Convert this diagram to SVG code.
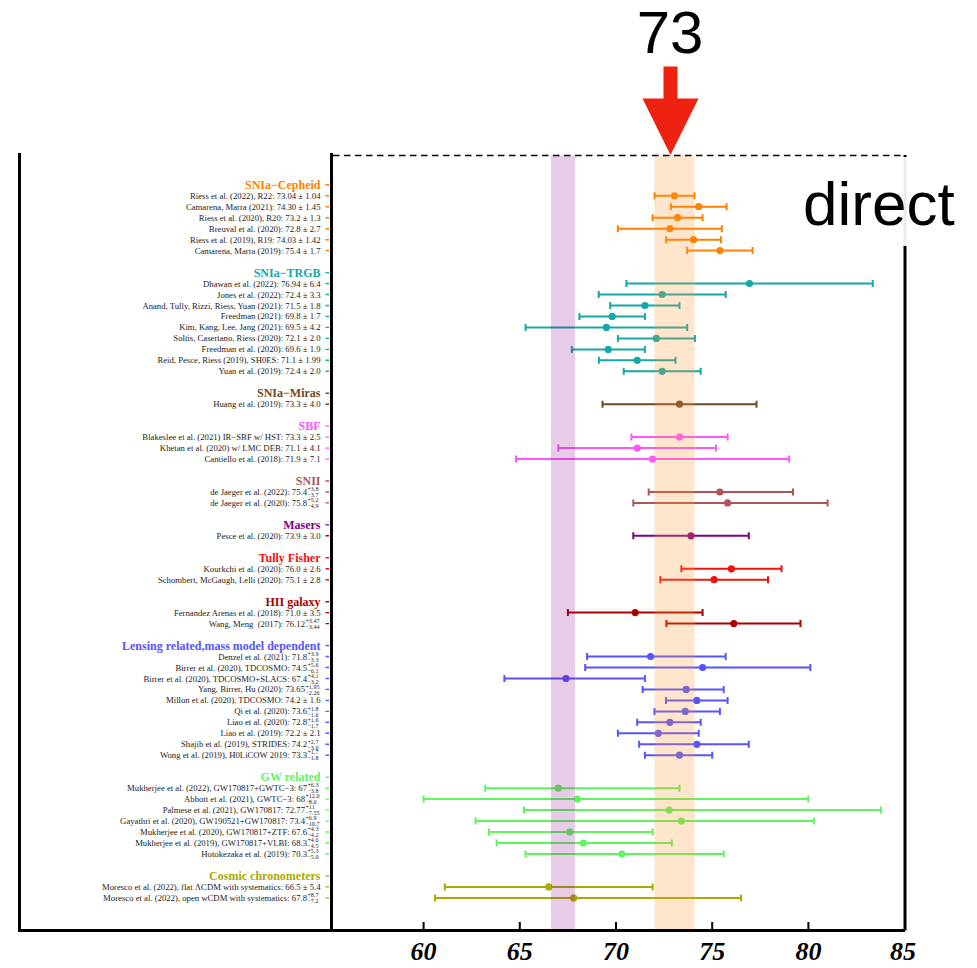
<svg xmlns="http://www.w3.org/2000/svg" width="977" height="968" viewBox="0 0 977 968">
<style>
.lbl{font-family:"Liberation Serif",serif;font-size:8.7px;fill:#222;text-anchor:end}
.ss{font-family:"Liberation Serif",serif;font-size:6.1px;fill:#222}
.hdr{font-family:"Liberation Serif",serif;font-size:12px;font-weight:bold;text-anchor:end;fill:currentColor}
.bar{stroke:currentColor;stroke-width:2;fill:none}
.tk{stroke:currentColor;stroke-width:1.4;fill:none}
.pt{fill:currentColor}
.frame{stroke:#000;stroke-width:3;fill:none}
.axl{font-family:"Liberation Serif",serif;font-size:26px;font-weight:bold;font-style:italic;text-anchor:middle;fill:#000}
</style>
<rect width="977" height="968" fill="#fff"/>

<g id="frame">
<path class="frame" d="M19.5,153 V930.5 H905 M331.5,153 V930.5 M905,155 V930.5"/>
<path stroke="#000" stroke-width="2" d="M423.6,929 v-7 M519.8,929 v-7 M616,929 v-7 M712.2,929 v-7 M808.4,929 v-7"/>
<text class="axl" x="423.6" y="960">60</text>
<text class="axl" x="519.8" y="960">65</text>
<text class="axl" x="616" y="960">70</text>
<text class="axl" x="712.2" y="960">75</text>
<text class="axl" x="808.4" y="960">80</text>
<text class="axl" x="903" y="960">85</text>
</g>

<g id="cepheid" style="color:#FF8000">
<text class="hdr" x="320.5" y="188.8">SNIa−Cepheid</text>
<text class="lbl" x="320.5" y="198.8">Riess et al. (2022), R22: 73.04 ± 1.04</text>
<text class="lbl" x="320.5" y="209.7">Camarena, Marra (2021): 74.30 ± 1.45</text>
<text class="lbl" x="320.5" y="220.7">Riess et al. (2020), R20: 73.2 ± 1.3</text>
<text class="lbl" x="320.5" y="231.7">Breuval et al. (2020): 72.8 ± 2.7</text>
<text class="lbl" x="320.5" y="242.7">Riess et al. (2019), R19: 74.03 ± 1.42</text>
<text class="lbl" x="320.5" y="253.6">Camarena, Marra (2019): 75.4 ± 1.7</text>
<path class="tk" d="M325.5,184.8h3.5M325.5,195.8h3.5M325.5,206.7h3.5M325.5,217.7h3.5M325.5,228.7h3.5M325.5,239.7h3.5M325.5,250.6h3.5"/>
<path class="bar" d="M654.5,195.8H694.5M654.5,192.3v7M694.5,192.3v7 M670.8,206.7H726.6M670.8,203.2v7M726.6,203.2v7 M652.6,217.7H702.6M652.6,214.2v7M702.6,214.2v7 M617.9,228.7H721.8M617.9,225.2v7M721.8,225.2v7 M666.2,239.7H720.9M666.2,236.2v7M720.9,236.2v7 M687.2,250.6H752.6M687.2,247.1v7M752.6,247.1v7"/>
<circle class="pt" cx="674.5" cy="195.8" r="3.6"/><circle class="pt" cx="698.7" cy="206.7" r="3.6"/><circle class="pt" cx="677.6" cy="217.7" r="3.6"/><circle class="pt" cx="669.9" cy="228.7" r="3.6"/><circle class="pt" cx="693.5" cy="239.7" r="3.6"/><circle class="pt" cx="719.9" cy="250.6" r="3.6"/>
</g>

<g id="trgb" style="color:#14A8A8">
<text class="hdr" x="320.5" y="276.6">SNIa−TRGB</text>
<text class="lbl" x="320.5" y="286.5">Dhawan et al. (2022): 76.94 ± 6.4</text>
<text class="lbl" x="320.5" y="297.5">Jones et al. (2022): 72.4 ± 3.3</text>
<text class="lbl" x="320.5" y="308.5">Anand, Tully, Rizzi, Riess, Yuan (2021): 71.5 ± 1.8</text>
<text class="lbl" x="320.5" y="319.4">Freedman (2021): 69.8 ± 1.7</text>
<text class="lbl" x="320.5" y="330.4">Kim, Kang, Lee, Jang (2021): 69.5 ± 4.2</text>
<text class="lbl" x="320.5" y="341.4">Soltis, Casertano, Riess (2020): 72.1 ± 2.0</text>
<text class="lbl" x="320.5" y="352.4">Freedman et al. (2020): 69.6 ± 1.9</text>
<text class="lbl" x="320.5" y="363.3">Reid, Pesce, Riess (2019), SH0ES: 71.1 ± 1.99</text>
<text class="lbl" x="320.5" y="374.3">Yuan et al. (2019): 72.4 ± 2.0</text>
<path class="tk" d="M325.5,272.6h3.5M325.5,283.5h3.5M325.5,294.5h3.5M325.5,305.5h3.5M325.5,316.4h3.5M325.5,327.4h3.5M325.5,338.4h3.5M325.5,349.4h3.5M325.5,360.3h3.5M325.5,371.3h3.5"/>
<path class="bar" d="M626.4,283.5H872.7M626.4,280v7M872.7,280v7 M598.7,294.5H725.7M598.7,291v7M725.7,291v7 M610.2,305.5H679.5M610.2,302v7M679.5,302v7 M579.4,316.4H644.9M579.4,312.9v7M644.9,312.9v7 M525.6,327.4H687.2M525.6,323.9v7M687.2,323.9v7 M617.9,338.4H694.9M617.9,334.9v7M694.9,334.9v7 M571.8,349.4H644.9M571.8,345.9v7M644.9,345.9v7 M598.9,360.3H675.5M598.9,356.8v7M675.5,356.8v7 M623.7,371.3H700.7M623.7,367.8v7M700.7,367.8v7"/>
<circle class="pt" cx="749.5" cy="283.5" r="3.6"/><circle class="pt" cx="662.2" cy="294.5" r="3.6"/><circle class="pt" cx="644.9" cy="305.5" r="3.6"/><circle class="pt" cx="612.2" cy="316.4" r="3.6"/><circle class="pt" cx="606.4" cy="327.4" r="3.6"/><circle class="pt" cx="656.4" cy="338.4" r="3.6"/><circle class="pt" cx="608.3" cy="349.4" r="3.6"/><circle class="pt" cx="637.2" cy="360.3" r="3.6"/><circle class="pt" cx="662.2" cy="371.3" r="3.6"/>
</g>

<g id="miras" style="color:#6B4A26">
<text class="hdr" x="320.5" y="397.2">SNIa−Miras</text>
<text class="lbl" x="320.5" y="407.2">Huang et al. (2019): 73.3 ± 4.0</text>
<path class="tk" d="M325.5,393.2h3.5M325.5,404.2h3.5"/>
<path class="bar" d="M602.5,404.2H756.5M602.5,400.7v7M756.5,400.7v7"/>
<circle class="pt" cx="679.5" cy="404.2" r="3.6"/>
</g>

<g id="sbf" style="color:#FF55FF">
<text class="hdr" x="320.5" y="430.1">SBF</text>
<text class="lbl" x="320.5" y="440.1">Blakeslee et al. (2021) IR−SBF w/ HST: 73.3 ± 2.5</text>
<text class="lbl" x="320.5" y="451.1">Khetan et al. (2020) w/ LMC DEB: 71.1 ± 4.1</text>
<text class="lbl" x="320.5" y="462.1">Cantiello et al. (2018): 71.9 ± 7.1</text>
<path class="tk" d="M325.5,426.1h3.5M325.5,437.1h3.5M325.5,448.1h3.5M325.5,459.1h3.5"/>
<path class="bar" d="M631.4,437.1H727.6M631.4,433.6v7M727.6,433.6v7 M558.3,448.1H716.1M558.3,444.6v7M716.1,444.6v7 M516,459.1H789.2M516,455.6v7M789.2,455.6v7"/>
<circle class="pt" cx="679.5" cy="437.1" r="3.6"/><circle class="pt" cx="637.2" cy="448.1" r="3.6"/><circle class="pt" cx="652.6" cy="459.1" r="3.6"/>
</g>

<g id="snii" style="color:#B05555">
<text class="hdr" x="320.5" y="485">SNII</text>
<text class="lbl" x="307" y="495">de Jaeger et al. (2022): 75.4</text>
<text class="ss" x="307.4" y="491.2">+3.8<tspan x="307.4" y="497.2">−3.7</tspan></text>
<text class="lbl" x="307" y="505.9">de Jaeger et al. (2020): 75.8</text>
<text class="ss" x="307.4" y="502.1">+5.2<tspan x="307.4" y="508.1">−4.9</tspan></text>
<path class="tk" d="M325.5,481h3.5M325.5,492h3.5M325.5,502.9h3.5"/>
<path class="bar" d="M648.7,492H793M648.7,488.5v7M793,488.5v7 M633.3,502.9H827.6M633.3,499.4v7M827.6,499.4v7"/>
<circle class="pt" cx="719.9" cy="492" r="3.6"/><circle class="pt" cx="727.6" cy="502.9" r="3.6"/>
</g>

<g id="masers" style="color:#800080">
<text class="hdr" x="320.5" y="528.9">Masers</text>
<text class="lbl" x="320.5" y="538.8">Pesce et al. (2020): 73.9 ± 3.0</text>
<path class="tk" d="M325.5,524.9h3.5M325.5,535.8h3.5"/>
<path class="bar" d="M633.3,535.8H748.8M633.3,532.3v7M748.8,532.3v7"/>
<circle class="pt" cx="691" cy="535.8" r="3.6"/>
</g>

<g id="tully" style="color:#F41010">
<text class="hdr" x="320.5" y="561.8">Tully Fisher</text>
<text class="lbl" x="320.5" y="571.8">Kourkchi et al. (2020): 76.0 ± 2.6</text>
<text class="lbl" x="320.5" y="582.7">Schombert, McGaugh, Lelli (2020): 75.1 ± 2.8</text>
<path class="tk" d="M325.5,557.8h3.5M325.5,568.8h3.5M325.5,579.7h3.5"/>
<path class="bar" d="M681.4,568.8H781.5M681.4,565.3v7M781.5,565.3v7 M660.3,579.7H768M660.3,576.2v7M768,576.2v7"/>
<circle class="pt" cx="731.4" cy="568.8" r="3.6"/><circle class="pt" cx="714.1" cy="579.7" r="3.6"/>
</g>

<g id="hii" style="color:#AA0000">
<text class="hdr" x="320.5" y="605.7">HII galaxy</text>
<text class="lbl" x="320.5" y="615.6">Fernandez Arenas et al. (2018): 71.0 ± 3.5</text>
<text class="lbl" x="305" y="626.6">Wang, Meng&#160; (2017): 76.12</text>
<text class="ss" x="305.4" y="622.8">+3.47<tspan x="305.4" y="628.8">−3.44</tspan></text>
<path class="tk" d="M325.5,601.7h3.5M325.5,612.6h3.5M325.5,623.6h3.5"/>
<path class="bar" d="M567.9,612.6H702.6M567.9,609.1v7M702.6,609.1v7 M666.4,623.6H800.5M666.4,620.1v7M800.5,620.1v7"/>
<circle class="pt" cx="635.2" cy="612.6" r="3.6"/><circle class="pt" cx="733.8" cy="623.6" r="3.6"/>
</g>

<g id="lensing" style="color:#5555FF">
<text class="hdr" x="320.5" y="649.5">Lensing related,mass model dependent</text>
<text class="lbl" x="307" y="659.5">Denzel et al. (2021): 71.8</text>
<text class="ss" x="307.4" y="655.7">+3.9<tspan x="307.4" y="661.7">−3.3</tspan></text>
<text class="lbl" x="307" y="670.5">Birrer et al. (2020), TDCOSMO: 74.5</text>
<text class="ss" x="307.4" y="666.7">+5.6<tspan x="307.4" y="672.7">−6.1</tspan></text>
<text class="lbl" x="307" y="681.5">Birrer et al. (2020), TDCOSMO+SLACS: 67.4</text>
<text class="ss" x="307.4" y="677.7">+4.1<tspan x="307.4" y="683.7">−3.2</tspan></text>
<text class="lbl" x="305" y="692.4">Yang, Birrer, Hu (2020): 73.65</text>
<text class="ss" x="305.4" y="688.6">+1.95<tspan x="305.4" y="694.6">−2.26</tspan></text>
<text class="lbl" x="320.5" y="703.4">Millon et al. (2020), TDCOSMO: 74.2 ± 1.6</text>
<text class="lbl" x="307" y="714.4">Qi et al. (2020): 73.6</text>
<text class="ss" x="307.4" y="710.6">+1.8<tspan x="307.4" y="716.6">−1.6</tspan></text>
<text class="lbl" x="307" y="725.3">Liao et al. (2020): 72.8</text>
<text class="ss" x="307.4" y="721.5">+1.6<tspan x="307.4" y="727.5">−1.7</tspan></text>
<text class="lbl" x="320.5" y="736.3">Liao et al. (2019): 72.2 ± 2.1</text>
<text class="lbl" x="307" y="747.3">Shajib et al. (2019), STRIDES: 74.2</text>
<text class="ss" x="307.4" y="743.5">+2.7<tspan x="307.4" y="749.5">−3.0</tspan></text>
<text class="lbl" x="307" y="758.2">Wong et al. (2019), H0LiCOW 2019: 73.3</text>
<text class="ss" x="307.4" y="754.4">+1.7<tspan x="307.4" y="760.4">−1.8</tspan></text>
<path class="tk" d="M325.5,645.5h3.5M325.5,656.5h3.5M325.5,667.5h3.5M325.5,678.5h3.5M325.5,689.4h3.5M325.5,700.4h3.5M325.5,711.4h3.5M325.5,722.3h3.5M325.5,733.3h3.5M325.5,744.3h3.5M325.5,755.2h3.5"/>
<path class="bar" d="M587.1,656.5H725.7M587.1,653v7M725.7,653v7 M585.2,667.5H810.3M585.2,664v7M810.3,664v7 M504.4,678.5H644.9M504.4,675v7M644.9,675v7 M642.6,689.4H723.7M642.6,685.9v7M723.7,685.9v7 M666,700.4H727.6M666,696.9v7M727.6,696.9v7 M654.5,711.4H719.9M654.5,707.9v7M719.9,707.9v7 M637.2,722.3H700.7M637.2,718.8v7M700.7,718.8v7 M617.9,733.3H698.7M617.9,729.8v7M698.7,729.8v7 M639.1,744.3H748.8M639.1,740.8v7M748.8,740.8v7 M644.9,755.2H712.2M644.9,751.7v7M712.2,751.7v7"/>
<circle class="pt" cx="650.6" cy="656.5" r="3.6"/><circle class="pt" cx="702.6" cy="667.5" r="3.6"/><circle class="pt" cx="566" cy="678.5" r="3.6"/><circle class="pt" cx="686.2" cy="689.4" r="3.6"/><circle class="pt" cx="696.8" cy="700.4" r="3.6"/><circle class="pt" cx="685.3" cy="711.4" r="3.6"/><circle class="pt" cx="669.9" cy="722.3" r="3.6"/><circle class="pt" cx="658.3" cy="733.3" r="3.6"/><circle class="pt" cx="696.8" cy="744.3" r="3.6"/><circle class="pt" cx="679.5" cy="755.2" r="3.6"/>
</g>

<g id="gw" style="color:#5EF55E">
<text class="hdr" x="320.5" y="781.2">GW related</text>
<text class="lbl" x="307" y="791.2">Mukherjee et al. (2022), GW170817+GWTC−3: 67</text>
<text class="ss" x="307.4" y="787.4">+6.3<tspan x="307.4" y="793.4">−3.8</tspan></text>
<text class="lbl" x="305" y="802.1">Abbott et al. (2021), GWTC−3: 68</text>
<text class="ss" x="305.4" y="798.3">+12.0<tspan x="305.4" y="804.3">−8.0</tspan></text>
<text class="lbl" x="305" y="813.1">Palmese et al. (2021), GW170817: 72.77</text>
<text class="ss" x="305.4" y="809.3">+11<tspan x="305.4" y="815.3">−7.55</tspan></text>
<text class="lbl" x="305" y="824.1">Gayathri et al. (2020), GW190521+GW170817: 73.4</text>
<text class="ss" x="305.4" y="820.3">+6.9<tspan x="305.4" y="826.3">−10.7</tspan></text>
<text class="lbl" x="307" y="835">Mukherjee et al. (2020), GW170817+ZTF: 67.6</text>
<text class="ss" x="307.4" y="831.2">+4.3<tspan x="307.4" y="837.2">−4.2</tspan></text>
<text class="lbl" x="307" y="846">Mukherjee et al. (2019), GW170817+VLBI: 68.3</text>
<text class="ss" x="307.4" y="842.2">+4.6<tspan x="307.4" y="848.2">−4.5</tspan></text>
<text class="lbl" x="307" y="857">Hotokezaka et al. (2019): 70.3</text>
<text class="ss" x="307.4" y="853.2">+5.3<tspan x="307.4" y="859.2">−5.0</tspan></text>
<path class="tk" d="M325.5,777.2h3.5M325.5,788.2h3.5M325.5,799.1h3.5M325.5,810.1h3.5M325.5,821.1h3.5M325.5,832h3.5M325.5,843h3.5M325.5,854h3.5"/>
<path class="bar" d="M485.2,788.2H679.5M485.2,784.7v7M679.5,784.7v7 M423.6,799.1H808.4M423.6,795.6v7M808.4,795.6v7 M524,810.1H880.9M524,806.6v7M880.9,806.6v7 M475.6,821.1H814.2M475.6,817.6v7M814.2,817.6v7 M489,832H652.6M489,828.5v7M652.6,828.5v7 M496.7,843H671.8M496.7,839.5v7M671.8,839.5v7 M525.6,854H723.7M525.6,850.5v7M723.7,850.5v7"/>
<circle class="pt" cx="558.3" cy="788.2" r="3.6"/><circle class="pt" cx="577.5" cy="799.1" r="3.6"/><circle class="pt" cx="669.3" cy="810.1" r="3.6"/><circle class="pt" cx="681.4" cy="821.1" r="3.6"/><circle class="pt" cx="569.8" cy="832" r="3.6"/><circle class="pt" cx="583.3" cy="843" r="3.6"/><circle class="pt" cx="621.8" cy="854" r="3.6"/>
</g>

<g id="chronometers" style="color:#AAAA00">
<text class="hdr" x="320.5" y="879.9">Cosmic chronometers</text>
<text class="lbl" x="320.5" y="889.9">Moresco et al. (2022), flat ΛCDM with systematics: 66.5 ± 5.4</text>
<text class="lbl" x="307" y="900.9">Moresco et al. (2022), open wCDM with systematics: 67.8</text>
<text class="ss" x="307.4" y="897.1">+8.7<tspan x="307.4" y="903.1">−7.2</tspan></text>
<path class="tk" d="M325.5,875.9h3.5M325.5,886.9h3.5M325.5,897.9h3.5"/>
<path class="bar" d="M444.8,886.9H652.6M444.8,883.4v7M652.6,883.4v7 M435.1,897.9H741.1M435.1,894.4v7M741.1,894.4v7"/>
<circle class="pt" cx="548.7" cy="886.9" r="3.6"/><circle class="pt" cx="573.7" cy="897.9" r="3.6"/>
</g>

<g id="bands">
<rect x="654.5" y="155.5" width="40" height="773.5" fill="#FF9933" opacity="0.25"/>
<rect x="551" y="155.5" width="24" height="773.5" fill="#800080" opacity="0.2"/>
</g>

<g id="marker73">
<path d="M333,155.5H905" stroke="#000" stroke-width="1.3" stroke-dasharray="6.5 4.5" fill="none"/>
<polygon points="663.5,66.5 677.5,66.5 677.5,98.5 698.5,98.5 670.5,155 642.5,98.5 663.5,98.5" fill="#EE2211"/>
<text x="670" y="53" font-family="Liberation Sans, Arial, sans-serif" font-size="60" text-anchor="middle" fill="#000">73</text>
</g>

<g id="direct-label">
<rect x="798" y="157" width="179" height="89" fill="#fff" opacity="0.92"/>
<text x="803" y="225" font-family="Liberation Sans, Arial, sans-serif" font-size="62" fill="#000">direct</text>
</g>
</svg>
